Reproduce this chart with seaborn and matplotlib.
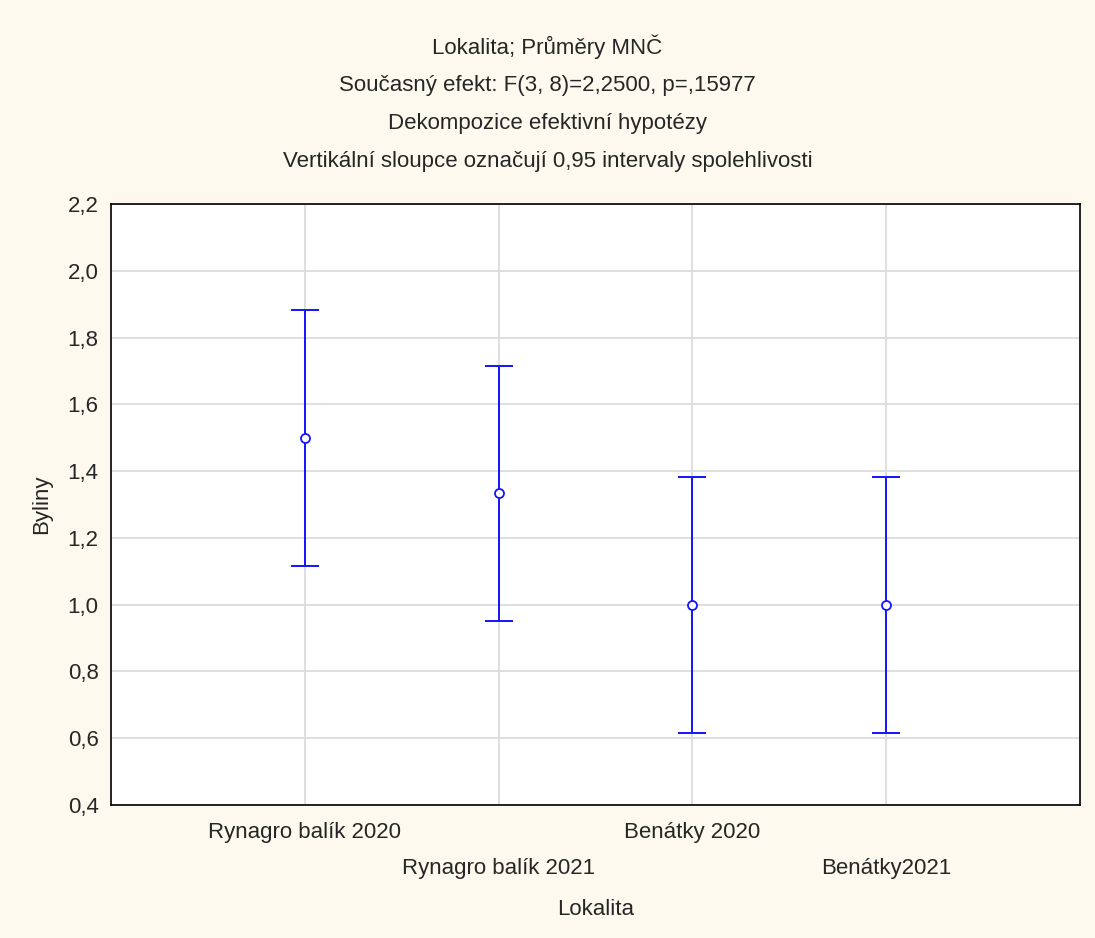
import matplotlib
matplotlib.use("Agg")
import matplotlib.pyplot as plt
import seaborn as sns
import pandas as pd
import numpy as np

# values
lokality = ["Rynagro balík 2020", "Rynagro balík 2021", "Benátky 2020", "Benátky2021"]
prumery = [1.5, 1.333, 1.0, 1.0]
ci_dolni = [1.117, 0.950, 0.617, 0.617]
ci_horni = [1.883, 1.716, 1.383, 1.383]
y_ticks = [0.4, 0.6, 0.8, 1.0, 1.2, 1.4, 1.6, 1.8, 2.0, 2.2]

titulek = ["Lokalita; Průměry MNČ",
           "Současný efekt: F(3, 8)=2,2500, p=,15977",
           "Dekompozice efektivní hypotézy",
           "Vertikální sloupce označují 0,95 intervaly spolehlivosti"]

sns.set_style("white")
plt.rcParams['font.family'] = ['Liberation Sans Narrow', 'Liberation Sans', 'DejaVu Sans']

df = pd.DataFrame({"x": np.arange(len(lokality)), "mean": prumery,
                   "lo": ci_dolni, "hi": ci_horni})

fig = plt.figure(figsize=(10.95, 9.38), dpi=100, facecolor="#FEF9EF")
ax = fig.add_axes([0.1014, 0.1418, 0.8849, 0.6407])
ax.set_facecolor("white")

blue = "#1414FF"
ax.errorbar(df["x"], df["mean"],
            yerr=[df["mean"] - df["lo"], df["hi"] - df["mean"]],
            fmt="none", ecolor=blue, elinewidth=1.4, capsize=10, capthick=1.4, zorder=3)
sns.scatterplot(data=df, x="x", y="mean", ax=ax, marker="o", s=42,
                facecolor="white", edgecolor=blue, linewidth=1.3, zorder=4)

ax.set_xlim(-1, 4)
ax.set_ylim(0.4, 2.2)
ax.set_yticks(y_ticks)
ax.set_yticklabels([f"{v:.1f}".replace(".", ",") for v in y_ticks], fontsize=16)
ax.set_xticks(df["x"])
ax.set_xticklabels(lokality, fontsize=16)
for i, lab in enumerate(ax.get_xticklabels()):
    if i % 2 == 1:
        lab.set_y(-0.06)
ax.tick_params(axis="x", direction="out", length=4, pad=8)
ax.tick_params(axis="y", direction="in", length=5, pad=9)

ax.grid(True, color="#DCDCDC", linewidth=1.3)
ax.set_axisbelow(True)
for s in ax.spines.values():
    s.set_color("black")
    s.set_linewidth(1.2)

ax.set_xlabel("Lokalita", fontsize=16)
ax.xaxis.set_label_coords(0.5, -(910 - 805) / 601)
ax.xaxis.label.set_va("center")
ax.set_ylabel("Byliny", fontsize=16)
ax.yaxis.set_label_coords(-(111 - 42) / 969, 0.5)
ax.yaxis.label.set_va("center")

for i, t in enumerate(titulek):
    fig.text(0.5, 1 - (47 + 38 * i) / 938, t, ha="center", va="center", fontsize=16)

fig.savefig("out.png", dpi=100, facecolor=fig.get_facecolor())
